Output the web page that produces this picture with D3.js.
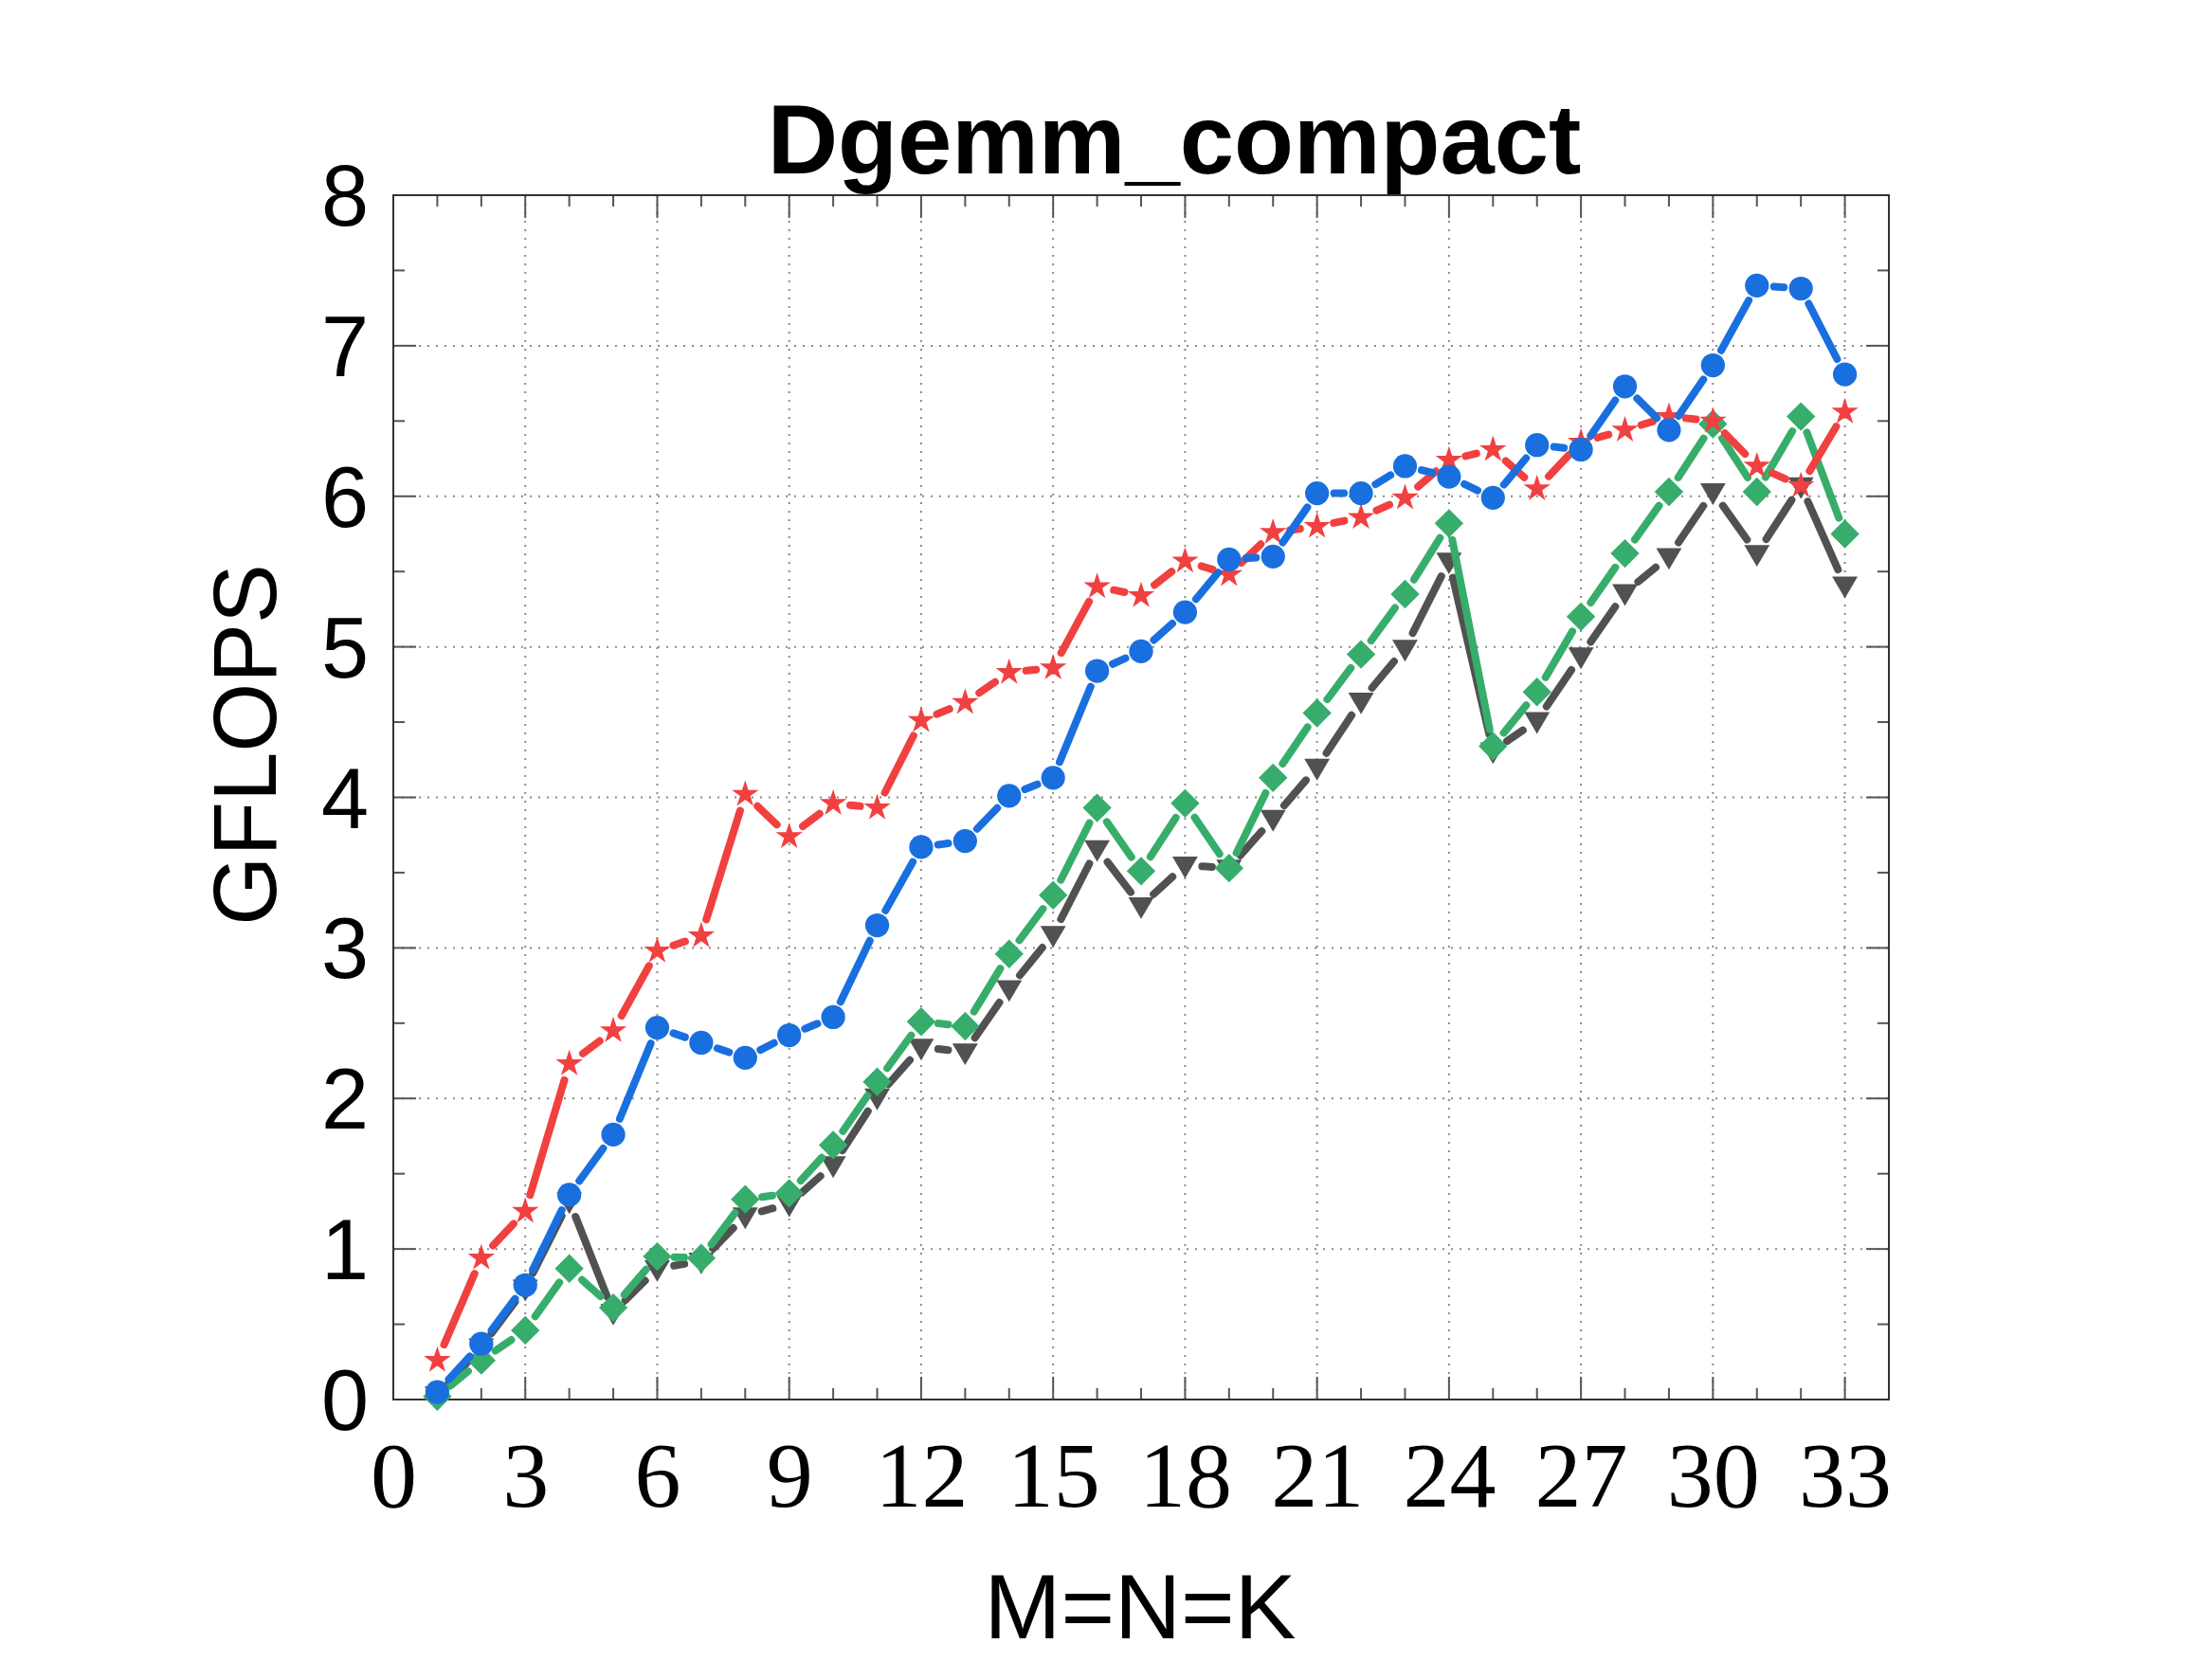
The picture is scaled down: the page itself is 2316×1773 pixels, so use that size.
<!DOCTYPE html>
<html>
<head>
<meta charset="utf-8">
<script src="https://cdn.jsdelivr.net/npm/d3@7"></script>
<style>
  html, body { margin: 0; padding: 0; background: #fff; }
  svg { display: block; }
</style>
</head>
<body>
<div id="chart"></div>
<script>
// M=N=K sizes
const sizes = d3.range(1, 34);

// GFLOPS per series
const redStar = [0.26, 0.94, 1.25, 2.23, 2.45, 2.98, 3.08, 4.02, 3.74, 3.96, 3.93,
  4.51, 4.63, 4.83, 4.86, 5.40, 5.34, 5.57, 5.48, 5.76, 5.80, 5.86, 5.99, 6.24,
  6.31, 6.05, 6.36, 6.44, 6.53, 6.50, 6.20, 6.07, 6.56];
const blueCircle = [0.05, 0.37, 0.76, 1.36, 1.76, 2.47, 2.37, 2.27, 2.42, 2.54, 3.15,
  3.67, 3.71, 4.01, 4.13, 4.84, 4.97, 5.23, 5.58, 5.60, 6.02, 6.02, 6.20, 6.13,
  5.99, 6.34, 6.31, 6.73, 6.44, 6.87, 7.40, 7.38, 6.81];
const greenDiamond = [0.02, 0.26, 0.46, 0.87, 0.61, 0.95, 0.94, 1.33, 1.37, 1.69, 2.11,
  2.51, 2.48, 2.96, 3.35, 3.93, 3.51, 3.96, 3.53, 4.13, 4.56, 4.95, 5.35, 5.82,
  4.34, 4.70, 5.20, 5.62, 6.03, 6.48, 6.03, 6.53, 5.75];
const grayTriangle = [0.03, 0.35, 0.74, 1.32, 0.58, 0.87, 0.92, 1.22, 1.30, 1.56, 2.01,
  2.34, 2.31, 2.73, 3.09, 3.66, 3.28, 3.55, 3.53, 3.86, 4.20, 4.64, 4.99, 5.57,
  4.31, 4.51, 4.94, 5.36, 5.60, 6.03, 5.62, 6.07, 5.41];

const xTicks = d3.range(0, 34, 3);
const yTicks = d3.range(0, 9, 1);

const WIDTH = 2316;
const HEIGHT = 1773;
const margin = { left: 415, right: 2316 - 1993, top: 206, bottom: 1773 - 1477 };
const LINE_WIDTH = 8;
const SEGMENT_TRIM = 18;

const x = d3.scaleLinear().domain([0, 34]).range([margin.left, WIDTH - margin.right]);
const y = d3.scaleLinear().domain([0, 8]).range([HEIGHT - margin.bottom, margin.top]);

const downTriangle = {
  draw(context, size) {
    const w = Math.sqrt(size) * 0.62;
    context.moveTo(-w, -w * 0.66);
    context.lineTo(w, -w * 0.66);
    context.lineTo(0, w * 1.04);
    context.closePath();
  }
};

const series = [
  { name: "gray", values: grayTriangle, color: "#515151", symbol: downTriangle, size: 470, rotate: 0 },
  { name: "green", values: greenDiamond, color: "#37ad6b", symbol: d3.symbolSquare, size: 460, rotate: 45 },
  { name: "red", values: redStar, color: "#f14040", symbol: d3.symbolStar, size: 250, rotate: 0 },
  { name: "blue", values: blueCircle, color: "#1a6fdf", symbol: d3.symbolCircle, size: 500, rotate: 0 },
];

const svg = d3.select("#chart")
  .append("svg")
  .attr("width", WIDTH)
  .attr("height", HEIGHT)
  .style("font-family", "'Liberation Sans', Arial, sans-serif");

// grid
const gridLayer = svg.append("g")
  .attr("stroke", "#8a8a8a")
  .attr("stroke-width", 2)
  .attr("stroke-dasharray", "2,7");
gridLayer.selectAll("line.vgrid")
  .data(xTicks.filter(d => d > 0))
  .join("line")
  .attr("class", "vgrid")
  .attr("x1", d => x(d)).attr("x2", d => x(d))
  .attr("y1", y(0)).attr("y2", y(8));
gridLayer.selectAll("line.hgrid")
  .data(yTicks.filter(d => d > 0 && d < 8))
  .join("line")
  .attr("class", "hgrid")
  .attr("x1", x(0)).attr("x2", x(34))
  .attr("y1", d => y(d)).attr("y2", d => y(d));

// ticks, inward on all four sides
const tickLayer = svg.append("g").attr("stroke", "#555").attr("stroke-width", 2);
const xMinor = d3.range(0, 35, 1);
const yMinor = d3.range(0, 8.01, 0.5);
xMinor.forEach(v => {
  const len = v % 3 === 0 ? 24 : 12;
  tickLayer.append("line").attr("x1", x(v)).attr("x2", x(v)).attr("y1", y(0)).attr("y2", y(0) - len);
  tickLayer.append("line").attr("x1", x(v)).attr("x2", x(v)).attr("y1", y(8)).attr("y2", y(8) + len);
});
yMinor.forEach(v => {
  const len = Number.isInteger(v) ? 24 : 12;
  tickLayer.append("line").attr("x1", x(0)).attr("x2", x(0) + len).attr("y1", y(v)).attr("y2", y(v));
  tickLayer.append("line").attr("x1", x(34)).attr("x2", x(34) - len).attr("y1", y(v)).attr("y2", y(v));
});

// frame
svg.append("rect")
  .attr("x", x(0)).attr("y", y(8))
  .attr("width", x(34) - x(0)).attr("height", y(0) - y(8))
  .attr("fill", "none")
  .attr("stroke", "#333")
  .attr("stroke-width", 2);

// axes labels via d3 axes (domain/ticks hidden, labels only)
const xAxis = svg.append("g")
  .attr("transform", `translate(0,${y(0)})`)
  .call(d3.axisBottom(x).tickValues(xTicks).tickSize(0).tickPadding(0));
xAxis.select(".domain").remove();
xAxis.selectAll("text")
  .attr("y", 113)
  .attr("dy", 0)
  .attr("font-family", "'Liberation Serif', 'Times New Roman', serif")
  .attr("font-size", 98)
  .attr("fill", "#000");

const yAxis = svg.append("g")
  .attr("transform", `translate(${x(0)},0)`)
  .call(d3.axisLeft(y).tickValues(yTicks).tickSize(0).tickPadding(0));
yAxis.select(".domain").remove();
yAxis.selectAll("text")
  .attr("x", -26)
  .attr("dy", "0.35em")
  .attr("font-family", "'Liberation Sans', Arial, sans-serif")
  .attr("font-size", 90)
  .attr("fill", "#000");

// series lines: each segment drawn separately with a gap round the markers
const trimSegment = (a, b) => {
  const dx = b[0] - a[0];
  const dy = b[1] - a[1];
  const len = Math.hypot(dx, dy);
  if (len <= SEGMENT_TRIM * 2 + 1) return null;
  const ux = dx / len;
  const uy = dy / len;
  return [
    [a[0] + ux * SEGMENT_TRIM, a[1] + uy * SEGMENT_TRIM],
    [b[0] - ux * SEGMENT_TRIM, b[1] - uy * SEGMENT_TRIM],
  ];
};

const seriesLayer = svg.append("g");
series.forEach(s => {
  const pts = sizes.map((n, i) => [x(n), y(s.values[i])]);
  const segs = d3.pairs(pts).map(([a, b]) => trimSegment(a, b)).filter(Boolean);
  const g = seriesLayer.append("g");
  g.selectAll("line")
    .data(segs)
    .join("line")
    .attr("x1", d => d[0][0]).attr("y1", d => d[0][1])
    .attr("x2", d => d[1][0]).attr("y2", d => d[1][1])
    .attr("stroke", s.color)
    .attr("stroke-width", LINE_WIDTH)
    .attr("stroke-linecap", "round");
  g.selectAll("path")
    .data(pts)
    .join("path")
    .attr("transform", d => `translate(${d[0]},${d[1]}) rotate(${s.rotate})`)
    .attr("d", d3.symbol().type(s.symbol).size(s.size)())
    .attr("fill", s.color);
});

// titles
svg.append("text")
  .attr("x", 1239)
  .attr("y", 183)
  .attr("text-anchor", "middle")
  .attr("font-size", 103)
  .attr("font-weight", "bold")
  .text("Dgemm_compact");

svg.append("text")
  .attr("x", 1203)
  .attr("y", 1729)
  .attr("text-anchor", "middle")
  .attr("font-size", 97)
  .text("M=N=K");

svg.append("text")
  .attr("transform", "translate(291,786) rotate(-90)")
  .attr("text-anchor", "middle")
  .attr("font-size", 94)
  .text("GFLOPS");
</script>
</body>
</html>
